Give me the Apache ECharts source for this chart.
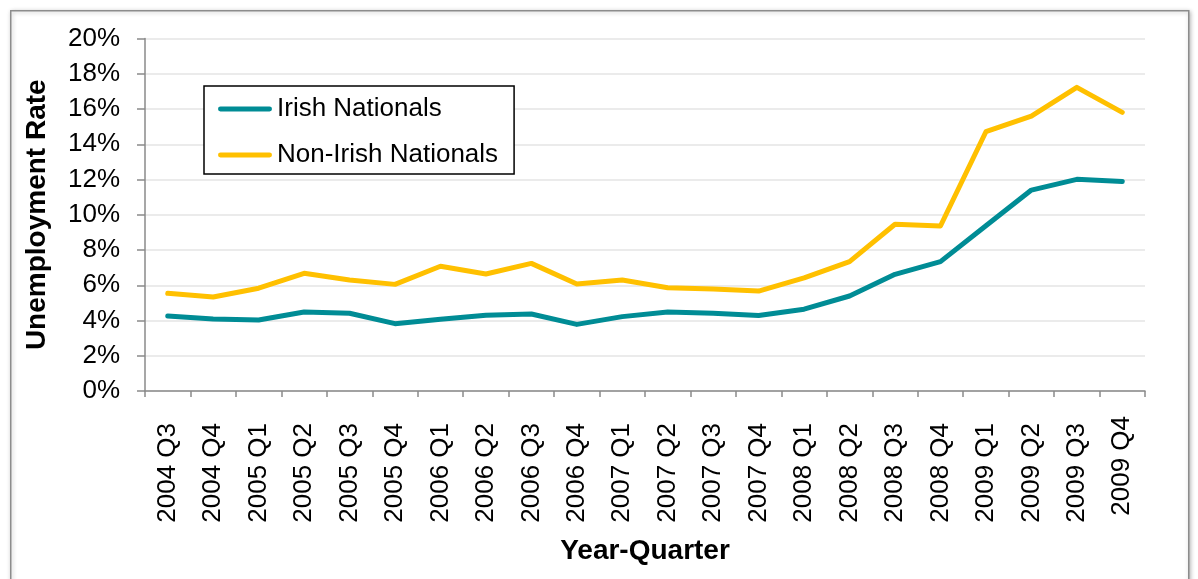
<!DOCTYPE html>
<html>
<head>
<meta charset="utf-8">
<title>Unemployment Rate by Nationality</title>
<script src="https://cdn.jsdelivr.net/npm/echarts@6/dist/echarts.min.js"></script>
<style>
  html, body { margin: 0; padding: 0; background: #ffffff; }
  #chart { width: 1198px; height: 579px; }
</style>
</head>
<body>
<div id="chart"></div>
<script>
// Quarterly unemployment rate (%), Irish vs non-Irish nationals
const quarters = [
  '2004 Q3', '2004 Q4', '2005 Q1', '2005 Q2', '2005 Q3', '2005 Q4',
  '2006 Q1', '2006 Q2', '2006 Q3', '2006 Q4', '2007 Q1', '2007 Q2',
  '2007 Q3', '2007 Q4', '2008 Q1', '2008 Q2', '2008 Q3', '2008 Q4',
  '2009 Q1', '2009 Q2', '2009 Q3', '2009 Q4'
];
const irishNationals = [
  4.26, 4.09, 4.03, 4.48, 4.41, 3.82, 4.07, 4.30, 4.37, 3.78, 4.22,
  4.48, 4.41, 4.28, 4.64, 5.39, 6.62, 7.34, 9.38, 11.40, 12.01, 11.88
];
const nonIrishNationals = [
  5.54, 5.33, 5.83, 6.68, 6.30, 6.05, 7.08, 6.64, 7.24, 6.07, 6.30,
  5.86, 5.79, 5.67, 6.42, 7.34, 9.46, 9.36, 14.71, 15.60, 17.23, 15.81
];
const seriesNames = ['Irish Nationals', 'Non-Irish Nationals'];
const yTickLabels = ['0%', '2%', '4%', '6%', '8%', '10%', '12%', '14%', '16%', '18%', '20%'];

const FONT = "'Liberation Sans', Arial, sans-serif";
const TEAL = '#008C95';
const GOLD = '#FFC000';
const AXIS_GREY = '#8A8A8A';

const chart = echarts.init(document.getElementById('chart'), null, { renderer: 'canvas' });

const lastIndex = quarters.length - 1;

chart.setOption({
  animation: false,
  backgroundColor: '#ffffff',
  graphic: [{
    type: 'rect',
    left: 10, top: 10,
    shape: { width: 1178, height: 600 },
    style: {
      fill: '#ffffff',
      stroke: '#8C8C8C',
      lineWidth: 1.5,
      shadowBlur: 4,
      shadowColor: 'rgba(0,0,0,0.25)',
      shadowOffsetX: 1,
      shadowOffsetY: 1
    },
    z: -10,
    silent: true
  }],
  grid: { left: 145, right: 53, top: 38.5, bottom: 188, containLabel: false },
  legend: {
    orient: 'vertical',
    left: 204, top: 86,
    padding: [10, 16, 6, 14],
    borderColor: '#000000',
    borderWidth: 1.5,
    borderRadius: 0,
    backgroundColor: '#ffffff',
    itemWidth: 54,
    itemHeight: 26,
    itemGap: 20,
    icon: 'path://M2,10.5 L52,10.5 A2.5,2.5 0 0 1 52,15.5 L2,15.5 A2.5,2.5 0 0 1 2,10.5 Z',
    textStyle: { fontFamily: FONT, fontSize: 26, color: '#000000', lineHeight: 26 },
    data: seriesNames
  },
  xAxis: {
    type: 'category',
    data: quarters,
    boundaryGap: true,
    name: 'Year-Quarter',
    nameLocation: 'middle',
    nameGap: 146,
    nameTextStyle: { fontFamily: FONT, fontSize: 28, fontWeight: 'bold', color: '#000000' },
    axisLine: { lineStyle: { color: AXIS_GREY, width: 1.5 } },
    axisTick: { show: true, inside: false, length: 6, alignWithLabel: false, lineStyle: { color: AXIS_GREY, width: 1.5 } },
    axisLabel: {
      interval: 0,
      rotate: 90,
      margin: 14,
      color: '#000000',
      fontFamily: FONT,
      fontSize: 26,
      formatter: function (value, idx) {
        return idx === lastIndex ? '{last|' + value + '}' : '{std|' + value + '}';
      },
      rich: {
        std: { fontFamily: FONT, fontSize: 26, color: '#000000', padding: [0, 18, 0, 0] },
        last: { fontFamily: FONT, fontSize: 26, color: '#000000', padding: [0, 11, 0, 0] }
      }
    },
    splitLine: { show: false }
  },
  yAxis: {
    type: 'value',
    min: 0,
    max: 20,
    interval: 2,
    name: 'Unemployment Rate',
    nameLocation: 'middle',
    nameGap: 94,
    nameRotate: 90,
    nameTextStyle: { fontFamily: FONT, fontSize: 28, fontWeight: 'bold', color: '#000000' },
    axisLine: { show: true, lineStyle: { color: AXIS_GREY, width: 1.5 } },
    axisTick: { show: true, inside: false, length: 8, lineStyle: { color: AXIS_GREY, width: 1.5 } },
    axisLabel: {
      margin: 25,
      color: '#000000',
      fontFamily: FONT,
      fontSize: 26,
      formatter: function (v) { return yTickLabels[Math.round(v / 2)]; }
    },
    splitLine: { show: true, lineStyle: { color: '#E4E4E4', width: 1.5 } }
  },
  series: [
    {
      name: seriesNames[0],
      type: 'line',
      data: irishNationals,
      symbol: 'none',
      color: TEAL,
      lineStyle: { color: TEAL, width: 5, cap: 'round', join: 'round' },
      z: 3
    },
    {
      name: seriesNames[1],
      type: 'line',
      data: nonIrishNationals,
      symbol: 'none',
      color: GOLD,
      lineStyle: { color: GOLD, width: 5, cap: 'round', join: 'round' },
      z: 2
    }
  ]
});
</script>
</body>
</html>
